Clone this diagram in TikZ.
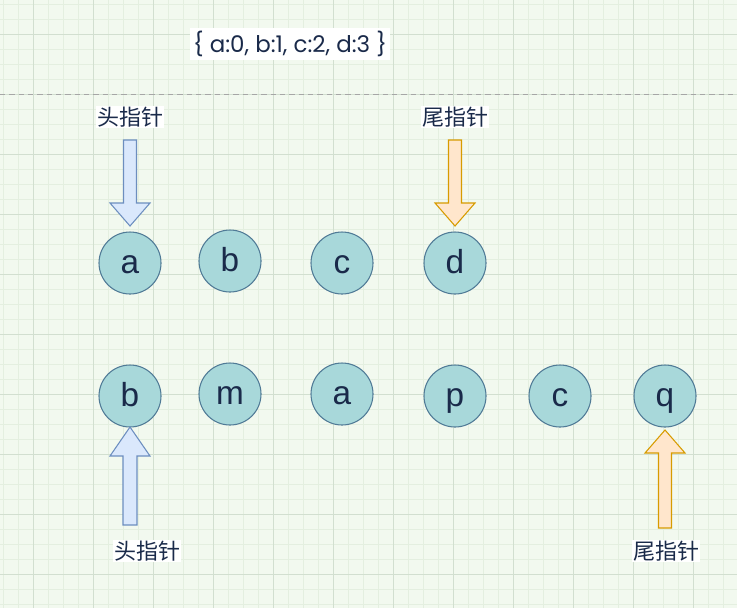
\documentclass[tikz,border=0pt]{standalone}
\usepackage{fontspec}
\setmainfont{Liberation Sans}
\newfontfamily\cjk{Noto Sans CJK SC}
\newfontfamily\pop{Poppins}
\definecolor{bgc}{RGB}{242,249,239}
\definecolor{minorc}{RGB}{228,239,224}
\definecolor{majorc}{RGB}{210,223,208}
\definecolor{cfill}{RGB}{168,216,218}
\definecolor{cline}{RGB}{80,122,150}
\definecolor{ctext}{RGB}{26,42,74}
\definecolor{bfill}{RGB}{218,232,252}
\definecolor{bline}{RGB}{108,142,191}
\definecolor{ofill}{RGB}{255,230,204}
\definecolor{oline}{RGB}{215,155,0}
\tikzset{
  elem/.style={circle,draw=cline,fill=cfill,line width=0.8pt,minimum size=46.5pt,inner sep=0pt,text=ctext,text height=15pt,text depth=0pt,font=\fontsize{25}{25}\selectfont},
  lbl/.style={fill=white,inner sep=1pt,text=ctext,font=\cjk\fontsize{16.5}{18}\selectfont},
  bluearr/.style={draw=bline,fill=bfill,line width=0.8pt,line join=miter},
  orarr/.style={draw=oline,fill=ofill,line width=0.8pt,line join=miter}
}
\newcommand{\blockarr}[6]{% style, x, ytail, ybase, ytip, halfshaft
  \draw[#1] (#2-#6,#3) -- (#2+#6,#3) -- (#2+#6,#4) -- (#2+20,#4) -- (#2,#5) -- (#2-20,#4) -- (#2-#6,#4) -- cycle;}
\begin{document}
\begin{tikzpicture}[x=0.75pt,y=-0.75pt]
\fill[bgc] (0,0) rectangle (737,608);
\useasboundingbox (0,0) rectangle (737,608);
\foreach \i in {0,...,49} {\draw[minorc,line width=0.5pt] (3+\i*15,0) -- (3+\i*15,608);}
\foreach \i in {0,...,41} {\draw[minorc,line width=0.5pt] (0,4+\i*15) -- (737,4+\i*15);}
\foreach \i in {0,...,12} {\draw[majorc,line width=0.6pt] (33+\i*60,0) -- (33+\i*60,608);}
\foreach \i in {0,...,10} {\draw[majorc,line width=0.6pt] (0,34+\i*60) -- (737,34+\i*60);}
\draw[gray!70,line width=0.7pt,dash pattern=on 4pt off 3pt] (0,94) -- (737,94);
\node[fill=white,inner sep=2pt,text=ctext,font=\pop\fontsize{17.2}{19}\selectfont] (dict) at (290,44) {\{ a:0, b:1, c:2, d:3 \}};
% row 1
\node[elem] (a1) at (130,263) {a};
\node[elem] (b1) at (230,261) {b};
\node[elem] (c1) at (342,263) {c};
\node[elem] (d1) at (455,263) {d};
% row 2
\node[elem] (b2) at (130,396) {b};
\node[elem] (m2) at (230,394) {m};
\node[elem] (a2) at (342,394) {a};
\node[elem] (p2) at (455,396) {p};
\node[elem] (c2) at (560,396) {c};
\node[elem] (q2) at (665,396) {q};
% labels
\node[lbl] (h1) at (130,117) {头指针};
\node[lbl] (t1) at (455,117) {尾指针};
\node[lbl] (h2) at (147,551) {头指针};
\node[lbl] (t2) at (666,551) {尾指针};
% arrows
\blockarr{bluearr}{130}{140}{203}{226}{6.5}
\blockarr{orarr}{455}{140}{203}{226}{6.5}
\blockarr{bluearr}{130}{525}{456}{427}{7}
\blockarr{orarr}{665}{528}{453}{430}{6.5}
\end{tikzpicture}
\end{document}
